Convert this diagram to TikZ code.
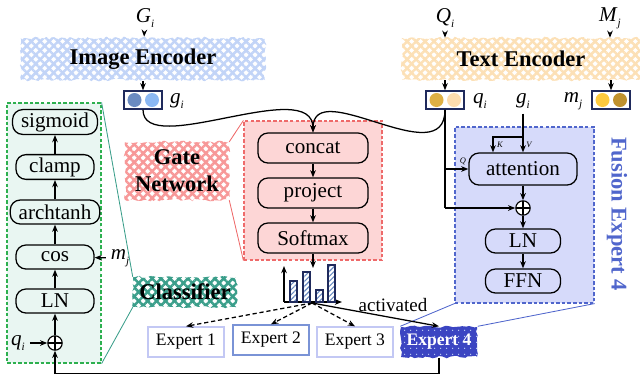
\documentclass[tikz,border=0pt]{standalone}
\usepackage{fontspec}
\setmainfont{Liberation Serif}
\usetikzlibrary{arrows.meta, patterns.meta, decorations.pathmorphing, calc}

\definecolor{imgblue}{HTML}{C2D4F7}
\definecolor{txtorange}{HTML}{FCE0B6}
\definecolor{gatered}{HTML}{F79898}
\definecolor{gatefill}{HTML}{FDD6D6}
\definecolor{gateedge}{HTML}{EE6A6A}
\definecolor{fusefill}{HTML}{D6DAFA}
\definecolor{fuseedge}{HTML}{5066CC}
\definecolor{clsfill}{HTML}{E9F6F2}
\definecolor{clsedge}{HTML}{2DB04F}
\definecolor{clsteal}{HTML}{3A9E8A}
\definecolor{expdark}{HTML}{3B45C2}
\definecolor{explight}{HTML}{C3C8F4}
\definecolor{expmid}{HTML}{7A93D6}
\definecolor{navy}{HTML}{1F2A5C}
\definecolor{gdark}{HTML}{6A8BC1}
\definecolor{glight}{HTML}{8BB8F3}
\definecolor{qdark}{HTML}{DEB044}
\definecolor{qlight}{HTML}{FDDDAE}
\definecolor{myellow}{HTML}{FCC940}
\definecolor{mdark}{HTML}{C0922F}

\newcommand{\vlabel}[2]{\textit{#1}\raisebox{-0.55ex}{\fontsize{8}{8}\selectfont\textit{#2}}}

\begin{document}
\begin{tikzpicture}[x=0.025cm, y=-0.025cm,
  every node/.style={font=\fontsize{15}{17}\selectfont},
  conn/.style={-{Stealth[length=1.8mm,width=1.4mm]}, line width=0.9pt},
  dashconn/.style={conn, dash pattern=on 3pt off 2pt},
  op/.style={draw, rounded corners=2.5mm, line width=0.9pt, minimum height=0.75cm, minimum width=2.75cm, inner sep=2pt},
  clsop/.style={op, fill=clsfill, minimum width=1.95cm, minimum height=0.6cm, inner xsep=6pt},
  panel/.style={draw, dash pattern=on 2.5pt off 1.5pt, line width=0.8pt},
  hatch/.style={pattern={Lines[angle=45,distance=4.5pt,line width=1.8pt]}, pattern color=#1,
    postaction={pattern={Lines[angle=-45,distance=4.5pt,line width=1.8pt]}, pattern color=#1}},
  rough/.style={decorate, decoration={random steps, segment length=2.5pt, amplitude=0.9pt}},
  band/.style={rough, minimum height=1.05cm, font=\fontsize{16}{19}\selectfont\bfseries},
  vecbox/.style={draw=navy, line width=1pt, fill=white, minimum width=0.95cm, minimum height=0.45cm, inner sep=0pt},
  expert/.style={draw, line width=1pt, fill=white, minimum width=1.9cm, minimum height=0.75cm, font=\fontsize{12.5}{14}\selectfont},
  oplus/.style={draw, circle, fill=white, line width=0.8pt, minimum size=0.36cm, inner sep=0pt,
    path picture={\draw[line width=0.8pt] (path picture bounding box.north) -- (path picture bounding box.south)
      (path picture bounding box.west) -- (path picture bounding box.east);}},
  tag/.style={font=\fontsize{6}{6}\selectfont\itshape}
]
\useasboundingbox (0,0) rectangle (640,377);

% Inputs and encoders
\node (gin) at (145,18) {\vlabel{G}{i}};
\node (qin) at (445,18) {\vlabel{Q}{i}};
\node (min) at (610,18) {\vlabel{M}{j}};

\node[band, hatch=imgblue, minimum width=6.1cm] (imgenc) at (143,59) {Image Encoder};
\node[band, hatch=txtorange, minimum width=5.95cm] (txtenc) at (521,59) {Text Encoder};

\draw[conn] (gin) -- (imgenc);
\draw[conn] (qin) -- (qin |- txtenc.north);
\draw[conn] (min) -- (min |- txtenc.north);

% Embedding vectors
\node[vecbox] (gvec) at (143,100) {};
\fill[gdark] (134.5,100) circle[radius=0.175cm];
\fill[glight] (152,100) circle[radius=0.175cm];
\node (glbl) at (177,101) {\vlabel{g}{i}};

\node[vecbox] (qvec) at (445,100) {};
\fill[qdark] (436.5,100) circle[radius=0.175cm];
\fill[qlight] (454,100) circle[radius=0.175cm];
\node (qlbl) at (480,101) {\vlabel{q}{i}};

\node (gatt) at (523,101) {\vlabel{g}{i}};

\node (mlbl) at (573,101) {\vlabel{m}{j}};
\node[vecbox] (mvec) at (611,100) {};
\fill[myellow] (602.5,100) circle[radius=0.175cm];
\fill[mdark] (620,100) circle[radius=0.175cm];

\draw[conn] (imgenc) -- (gvec);
\draw[conn] (qvec |- txtenc.south) -- (qvec);
\draw[conn] (mvec |- txtenc.south) -- (mvec);

% Gate Network
\node[panel, draw=gateedge, fill=gatefill, minimum width=3.45cm, minimum height=3.475cm] (gatebox) at (313,190.5) {};
\node[op, fill=gatefill] (concat) at (313,148) {concat};
\node[op, fill=gatefill] (project) at (313,193) {project};
\node[op, fill=gatefill] (softmax) at (313,238) {Softmax};
\draw[conn] (concat) -- (project);
\draw[conn] (project) -- (softmax);

\node[band, hatch=gatered, minimum width=2.6cm, minimum height=1.45cm, align=center] (gatelbl) at (177,171) {Gate\\Network};
\draw[gateedge, line width=0.6pt] (gatelbl.north east) -- (gatebox.north west);
\draw[gateedge, line width=0.6pt] (gatelbl.south east) -- (gatebox.south west);

\draw[conn] (gvec.south) .. controls +(0,50) and +(0,-58) .. (concat.north);
\draw[conn] (qvec.south) .. controls +(0,65) and +(0,-58) .. (concat.north);

% Fusion Expert
\node[panel, draw=fuseedge, fill=fusefill, minimum width=3.475cm, minimum height=4.4cm] (fusebox) at (524.5,215) {};
\node[op, fill=fusefill, minimum width=2.7cm, minimum height=0.8cm] (attn) at (523,169) {attention};
\node[oplus] (fadd) at (523,208) {};
\node[op, fill=fusefill, minimum width=1.875cm, minimum height=0.6cm] (fln) at (523,241) {LN};
\node[op, fill=fusefill, minimum width=1.875cm, minimum height=0.6cm] (ffn) at (523,281) {FFN};
\node[rotate=-90, font=\fontsize{16}{19}\selectfont\bfseries, text=fuseedge] (fuselbl) at (617,214) {Fusion Expert 4};

\coordinate (kv) at (523,137);
\draw[conn] (gatt) -- (attn);
\draw[conn] (kv) -| ([xshift=-0.75cm]attn.north);
\node[tag] (ktag) at (500,145) {K};
\node[tag] (vtag) at (529,145) {V};
\node[tag] (qtag) at (463,161) {Q};

\coordinate (qdown) at (445,208);
\draw[line width=0.9pt] (qvec.south) -- (qdown);
\draw[conn] (qdown) -- (fadd);
\draw[conn] (qvec.south |- attn) -- (attn);
\draw[conn] (attn) -- (fadd);
\draw[conn] (fadd) -- (fln);
\draw[conn] (fln) -- (ffn);

% Experts
\node[expert, draw=explight] (exp1) at (186,342) {Expert 1};
\node[expert, draw=expmid] (exp2) at (271,340) {Expert 2};
\node[expert, draw=explight] (exp3) at (355,342) {Expert 3};
\node[expert, rough, draw=none, fill=expdark, text=white,
  postaction={pattern={Dots[distance=4pt,radius=0.5pt]}, pattern color=imgblue}] (exp4) at (439,342) {\bfseries Expert 4};

\draw[fuseedge, line width=0.6pt] (fusebox.south west) -- (exp4.north west);
\draw[fuseedge, line width=0.6pt] (fusebox.south east) -- (exp4.north east);

% Routing weights
\coordinate (chart) at (284,302);
\draw[conn] (chart) -- ++(0,-36);
\draw[conn] (chart) -- ++(58,0);
\foreach \x/\h in {290/21, 303/30, 316/12, 328/37}
  \draw[navy, line width=0.9pt, pattern={Lines[angle=45,distance=2.5pt,line width=0.8pt]}, pattern color=gdark]
    (\x,302) rectangle ++(7,-\h);
\coordinate (bartop) at (313,268);
\draw[conn] (softmax) -- (bartop);

\coordinate (disp) at (312,303);
\draw[dashconn] (disp) -- (exp1.north);
\draw[dashconn] (disp) -- (exp2.north);
\draw[dashconn] (disp) -- (exp3.north);
\draw[conn] (disp) -- (exp4.north);
\node[font=\fontsize{13.5}{15}\selectfont] (actlbl) at (393,305) {activated};

% Classifier
\node[panel, draw=clsedge, fill=clsfill, minimum width=2.35cm, minimum height=6.5cm] (clsbox) at (54,233) {};
\node[clsop] (csigm) at (55,122) {sigmoid};
\node[clsop] (cclamp) at (55,167) {clamp};
\node[clsop] (catanh) at (55,212) {archtanh};
\node[clsop] (ccos) at (55,257) {cos};
\node[clsop] (cln) at (55,301) {LN};
\node[oplus] (cadd) at (55,343) {};
\draw[conn] (cadd) -- (cln);
\draw[conn] (cln) -- (ccos);
\draw[conn] (ccos) -- (catanh);
\draw[conn] (catanh) -- (cclamp);
\draw[conn] (cclamp) -- (csigm);

\node (cmlbl) at (120,258) {\vlabel{m}{j}};
\draw[conn] (cmlbl) -- (ccos);
\node (cqlbl) at (18,343) {\vlabel{q}{i}};
\draw[conn] (cqlbl) -- (cadd);

\node[band, hatch=clsteal, minimum width=2.6cm, minimum height=0.75cm] (clslbl) at (185,292) {Classifier};
\draw[clsteal, line width=0.6pt] (clsbox.north east) -- (clslbl.north west);
\draw[clsteal, line width=0.6pt] (clslbl.south west) -- (clsbox.south east);

% Fusion output back to the classifier
\draw[conn] (exp4.south) -- ++(0,16) -| (cadd);

\end{tikzpicture}
\end{document}
